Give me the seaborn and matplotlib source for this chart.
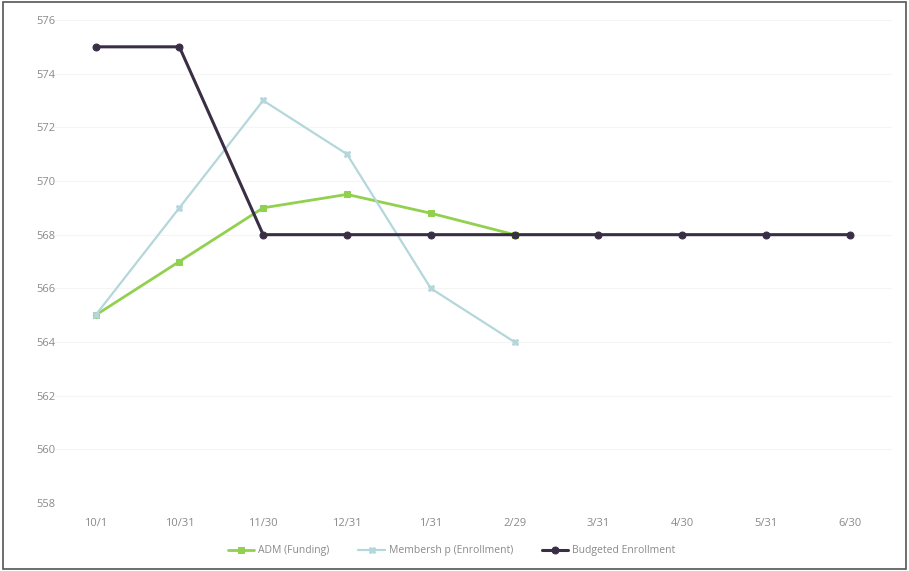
import matplotlib
matplotlib.use("Agg")
import matplotlib.pyplot as plt
import seaborn as sns
import pandas as pd
import numpy as np

dates = ["10/1", "10/31", "11/30", "12/31", "1/31", "2/29", "3/31", "4/30", "5/31", "6/30"]
adm = [565, 567, 569, 569.5, 568.8, 568]
membership = [565, 569, 573, 571, 566, 564]
budgeted = [575, 575, 568, 568, 568, 568, 568, 568, 568, 568]
yticks = [558, 560, 562, 564, 566, 568, 570, 572, 574, 576]

sns.set_theme(style="white")
plt.rcParams['font.family'] = ['Open Sans', 'DejaVu Sans']

fig = plt.figure(figsize=(9.09, 5.71), dpi=100)
ax = fig.add_axes([0.059, 0.119, 0.922, 0.846])

x = np.arange(len(dates))
df_adm = pd.DataFrame({"x": x[:len(adm)], "y": adm})
df_mem = pd.DataFrame({"x": x[:len(membership)], "y": membership})
df_bud = pd.DataFrame({"x": x, "y": budgeted})

sns.lineplot(data=df_adm, x="x", y="y", ax=ax, color="#92d050", lw=2.0,
             marker="s", markersize=5, markeredgecolor="#92d050", label="ADM (Funding)")
sns.lineplot(data=df_mem, x="x", y="y", ax=ax, color="#b4d7dc", lw=1.6,
             marker="X", markersize=5, markeredgecolor="#b4d7dc", label="Membersh p (Enrollment)")
sns.lineplot(data=df_bud, x="x", y="y", ax=ax, color="#3a2e45", lw=2.2,
             marker="o", markersize=5, markeredgecolor="#3a2e45", label="Budgeted Enrollment")

ax.set_xlim(-0.5, len(dates) - 0.5)
ax.set_ylim(558, 576)
ax.set_xticks(x)
ax.set_xticklabels(dates)
ax.set_yticks(yticks)
ax.set_xlabel("")
ax.set_ylabel("")
ax.tick_params(axis="both", labelsize=8, labelcolor="#8a8a8a", length=0, pad=6)
ax.tick_params(axis="y", pad=-12)
for lbl in ax.get_yticklabels():
    lbl.set_horizontalalignment("left")
    lbl.set_x(-0.04)
for y in yticks:
    ax.axhline(y, color="#f5f5f5", lw=0.8, zorder=0)
for s in ax.spines.values():
    s.set_visible(False)
ax.tick_params(axis="x", pad=11)

leg = ax.legend(loc="upper center", bbox_to_anchor=(0.475, -0.068), ncol=3, frameon=False,
                fontsize=7.5, handlelength=2.5, columnspacing=2.8, handletextpad=0.4)
for t in leg.get_texts():
    t.set_color("#8a8a8a")

fig.patches.append(plt.Rectangle((0.003, 0.003), 0.994, 0.994, transform=fig.transFigure,
                                 fill=False, edgecolor="#555555", lw=1.2))

fig.savefig("out.png", dpi=100)
